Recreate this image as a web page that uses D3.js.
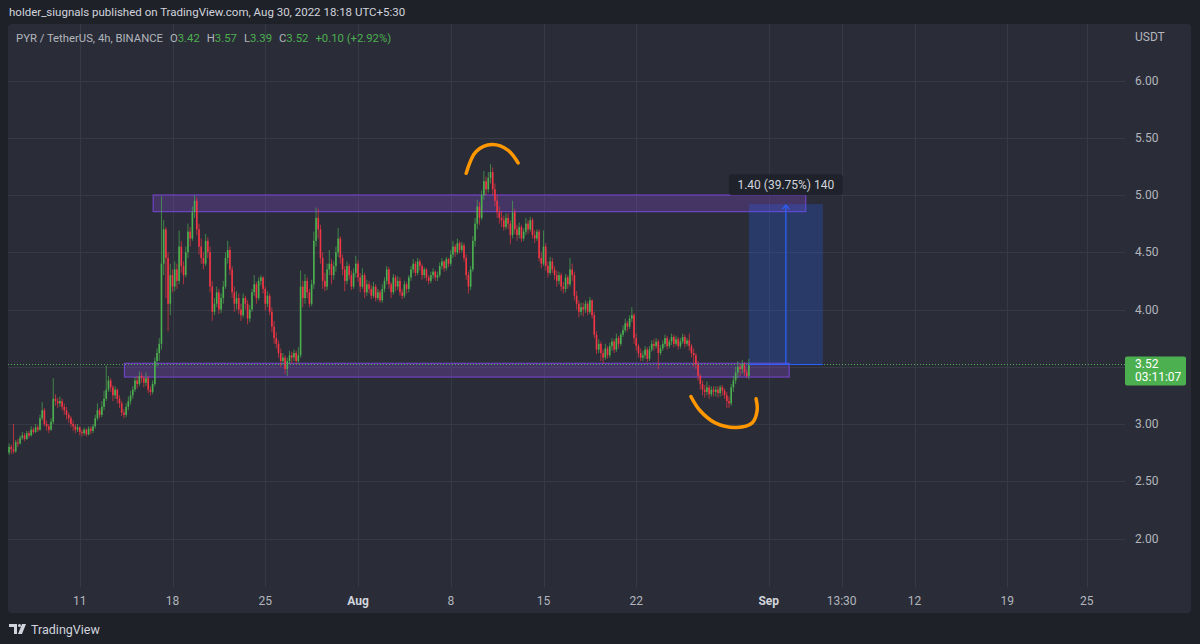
<!DOCTYPE html>
<html>
<head>
<meta charset="utf-8">
<script src="https://cdn.jsdelivr.net/npm/d3@7"></script>
<style>
  html, body { margin: 0; padding: 0; background: #1f2129; }
  svg { display: block; font-family: Roboto, "Noto Sans", sans-serif; }
</style>
</head>
<body>
<svg id="chart" width="1200" height="644"></svg>
<script>
// PYR/USDT 4h candles, Jul 5 12:00 -> Aug 30 12:00 (UTC), one row per day
const firstOpen = 2.72;
const closes = [
  2.75, 2.80, 2.78,
  2.76, 2.84, 2.83, 2.88, 2.90, 2.87,
  2.92, 2.90, 2.95, 2.93, 2.97, 2.95,
  3.05, 3.12, 3.00, 2.98, 2.95, 3.02,
  3.22, 3.20, 3.18, 3.20, 3.15, 3.12,
  3.08, 3.05, 3.00, 2.98, 2.95, 2.97,
  2.93, 2.92, 2.95, 2.91, 2.96, 2.94,
  2.98, 3.05, 3.12, 3.08, 3.15, 3.22,
  3.30, 3.38, 3.32, 3.25, 3.30, 3.22,
  3.18, 3.10, 3.08, 3.15, 3.20, 3.25,
  3.30, 3.38, 3.35, 3.42, 3.40, 3.36,
  3.40, 3.30, 3.28, 3.35, 3.55, 3.62,
  3.70, 4.40, 4.70, 4.45, 4.05, 4.30,
  4.20, 4.35, 4.25, 4.55, 4.38, 4.30,
  4.50, 4.68, 4.62, 4.85, 4.95, 4.70,
  4.55, 4.45, 4.40, 4.60, 4.50, 4.20,
  3.98, 4.05, 4.15, 4.00, 4.10, 4.20,
  4.45, 4.52, 4.35, 4.15, 4.05, 4.10,
  4.00, 3.95, 4.10, 4.05, 3.92, 4.00,
  4.15, 4.22, 4.10, 4.25, 4.28, 4.18,
  4.05, 4.12, 3.98, 3.85, 3.75, 3.70,
  3.62, 3.55, 3.58, 3.48, 3.55, 3.60,
  3.58, 3.62, 3.55, 3.60, 4.20, 4.10,
  4.25, 4.15, 4.05, 4.22, 4.60, 4.80,
  4.70, 4.45, 4.25, 4.20, 4.35, 4.40,
  4.30, 4.38, 4.50, 4.62, 4.45, 4.35,
  4.25, 4.38, 4.30, 4.20, 4.32, 4.40,
  4.28, 4.20, 4.30, 4.15, 4.22, 4.18,
  4.12, 4.20, 4.10, 4.15, 4.08, 4.18,
  4.25, 4.35, 4.22, 4.15, 4.28, 4.20,
  4.25, 4.15, 4.12, 4.22, 4.18, 4.28,
  4.35, 4.40, 4.32, 4.42, 4.38, 4.30,
  4.35, 4.28, 4.25, 4.30, 4.33, 4.28,
  4.30, 4.38, 4.42, 4.36, 4.44, 4.40,
  4.48, 4.55, 4.50, 4.58, 4.52, 4.56,
  4.45, 4.30, 4.20, 4.35, 4.60, 4.75,
  4.90, 4.80, 5.00, 5.12, 5.05, 5.15,
  5.20, 5.05, 4.95, 4.85, 4.80, 4.78,
  4.72, 4.80, 4.75, 4.65, 4.85, 4.70,
  4.65, 4.72, 4.62, 4.68, 4.75, 4.70,
  4.78, 4.65, 4.62, 4.68, 4.45, 4.40,
  4.55, 4.38, 4.32, 4.42, 4.35, 4.30,
  4.25, 4.30, 4.20, 4.18, 4.28, 4.22,
  4.35, 4.30, 4.12, 4.05, 3.98, 4.02,
  4.00, 4.05, 3.98, 4.08, 3.95, 3.78,
  3.65, 3.70, 3.62, 3.58, 3.66, 3.60,
  3.68, 3.72, 3.65, 3.75, 3.70, 3.78,
  3.82, 3.88, 3.85, 3.92, 3.95, 3.75,
  3.68, 3.62, 3.58, 3.60, 3.65, 3.57,
  3.65, 3.70, 3.68, 3.72, 3.62, 3.66,
  3.70, 3.75, 3.68, 3.72, 3.76, 3.70,
  3.74, 3.68, 3.72, 3.76, 3.70, 3.73,
  3.68, 3.62, 3.60, 3.52, 3.42, 3.35,
  3.30, 3.28, 3.32, 3.26, 3.30, 3.28,
  3.30, 3.27, 3.32, 3.29, 3.25, 3.20,
  3.18, 3.32, 3.38, 3.45, 3.50, 3.48,
  3.52, 3.45, 3.42, 3.52
];
const highs = [
  2.78, 2.83, 2.82,
  3.00, 2.86, 2.87, 2.90, 2.93, 2.92,
  2.94, 2.94, 2.98, 2.97, 3.00, 2.99,
  3.08, 3.19, 3.14, 3.03, 3.00, 3.05,
  3.40, 3.26, 3.23, 3.24, 3.22, 3.18,
  3.15, 3.10, 3.07, 3.03, 3.00, 3.00,
  2.98, 2.95, 2.97, 2.96, 2.98, 2.98,
  3.00, 3.08, 3.18, 3.14, 3.20, 3.29,
  3.51, 3.42, 3.40, 3.34, 3.33, 3.31,
  3.25, 3.20, 3.13, 3.18, 3.24, 3.29,
  3.33, 3.41, 3.42, 3.46, 3.45, 3.42,
  3.45, 3.42, 3.33, 3.38, 3.58, 3.66,
  3.75, 4.99, 4.78, 4.72, 4.50, 4.40,
  4.35, 4.42, 4.40, 4.69, 4.60, 4.42,
  4.55, 4.75, 4.72, 4.90, 5.00, 4.98,
  4.75, 4.62, 4.50, 4.66, 4.63, 4.55,
  4.25, 4.10, 4.20, 4.18, 4.14, 4.25,
  4.50, 4.60, 4.55, 4.38, 4.20, 4.16,
  4.14, 4.05, 4.14, 4.12, 4.08, 4.04,
  4.18, 4.30, 4.24, 4.28, 4.30, 4.29,
  4.20, 4.16, 4.14, 4.02, 3.90, 3.80,
  3.73, 3.66, 3.62, 3.60, 3.58, 3.64,
  3.63, 3.65, 3.64, 3.67, 4.34, 4.25,
  4.31, 4.28, 4.18, 4.26, 4.68, 4.89,
  4.88, 4.74, 4.50, 4.32, 4.40, 4.52,
  4.44, 4.42, 4.55, 4.71, 4.64, 4.48,
  4.38, 4.42, 4.40, 4.34, 4.36, 4.47,
  4.43, 4.32, 4.36, 4.32, 4.26, 4.25,
  4.21, 4.24, 4.22, 4.18, 4.17, 4.22,
  4.28, 4.38, 4.37, 4.24, 4.31, 4.30,
  4.29, 4.28, 4.18, 4.25, 4.24, 4.30,
  4.38, 4.44, 4.42, 4.45, 4.44, 4.40,
  4.37, 4.36, 4.30, 4.33, 4.36, 4.34,
  4.33, 4.41, 4.45, 4.43, 4.46, 4.45,
  4.52, 4.60, 4.57, 4.62, 4.60, 4.59,
  4.58, 4.48, 4.33, 4.38, 4.64, 4.80,
  4.96, 4.94, 5.04, 5.21, 5.16, 5.20,
  5.27, 5.24, 5.10, 5.00, 4.90, 4.86,
  4.82, 4.84, 4.84, 4.78, 4.95, 4.88,
  4.74, 4.76, 4.74, 4.71, 4.80, 4.78,
  4.81, 4.80, 4.69, 4.70, 4.70, 4.50,
  4.69, 4.58, 4.42, 4.46, 4.45, 4.38,
  4.34, 4.33, 4.32, 4.24, 4.31, 4.30,
  4.45, 4.40, 4.33, 4.16, 4.08, 4.06,
  4.06, 4.08, 4.07, 4.11, 4.09, 3.98,
  3.81, 3.74, 3.72, 3.65, 3.70, 3.68,
  3.71, 3.75, 3.74, 3.79, 3.77, 3.80,
  3.86, 3.92, 3.90, 3.95, 4.02, 3.97,
  3.79, 3.70, 3.66, 3.64, 3.68, 3.67,
  3.68, 3.73, 3.74, 3.75, 3.74, 3.69,
  3.73, 3.78, 3.77, 3.74, 3.79, 3.78,
  3.77, 3.76, 3.75, 3.79, 3.78, 3.75,
  3.79, 3.70, 3.66, 3.62, 3.55, 3.44,
  3.38, 3.34, 3.37, 3.34, 3.33, 3.33,
  3.33, 3.33, 3.34, 3.34, 3.31, 3.28,
  3.24, 3.35, 3.42, 3.50, 3.55, 3.53,
  3.56, 3.54, 3.48, 3.57
];
const lows = [
  2.70, 2.73, 2.74,
  2.74, 2.75, 2.80, 2.82, 2.86, 2.85,
  2.86, 2.88, 2.89, 2.91, 2.92, 2.93,
  2.94, 3.03, 2.98, 2.94, 2.92, 2.94,
  3.00, 3.16, 3.14, 3.15, 3.12, 3.08,
  3.04, 3.01, 2.97, 2.94, 2.92, 2.93,
  2.90, 2.89, 2.90, 2.89, 2.90, 2.91,
  2.92, 2.96, 3.03, 3.05, 3.06, 3.12,
  3.20, 3.28, 3.28, 3.20, 3.22, 3.18,
  3.14, 3.07, 3.05, 3.06, 3.12, 3.17,
  3.22, 3.28, 3.31, 3.33, 3.36, 3.32,
  3.33, 3.27, 3.25, 3.26, 3.33, 3.50,
  3.55, 3.65, 4.30, 4.10, 3.81, 3.95,
  4.15, 4.16, 4.18, 4.22, 4.32, 4.22,
  4.28, 4.45, 4.55, 4.60, 4.80, 4.65,
  4.48, 4.40, 4.35, 4.38, 4.45, 4.15,
  3.90, 3.95, 4.02, 3.96, 3.97, 4.05,
  4.18, 4.40, 4.30, 4.10, 3.98, 4.00,
  3.96, 3.90, 3.93, 4.00, 3.87, 3.89,
  3.98, 4.12, 4.05, 4.08, 4.21, 4.14,
  3.99, 4.02, 3.95, 3.80, 3.70, 3.66,
  3.58, 3.50, 3.52, 3.44, 3.42, 3.52,
  3.53, 3.55, 3.52, 3.53, 3.58, 4.02,
  4.05, 4.10, 4.02, 4.03, 4.18, 4.55,
  4.62, 4.40, 4.18, 4.16, 4.17, 4.30,
  4.22, 4.26, 4.33, 4.46, 4.40, 4.30,
  4.16, 4.22, 4.26, 4.17, 4.18, 4.28,
  4.24, 4.15, 4.18, 4.10, 4.12, 4.14,
  4.09, 4.10, 4.07, 4.08, 4.06, 4.06,
  4.15, 4.22, 4.18, 4.10, 4.13, 4.16,
  4.17, 4.12, 4.09, 4.10, 4.14, 4.15,
  4.25, 4.32, 4.29, 4.30, 4.34, 4.26,
  4.27, 4.25, 4.22, 4.23, 4.27, 4.25,
  4.25, 4.28, 4.35, 4.33, 4.34, 4.37,
  4.38, 4.45, 4.46, 4.48, 4.49, 4.50,
  4.42, 4.26, 4.14, 4.17, 4.33, 4.55,
  4.70, 4.74, 4.78, 4.96, 5.00, 5.02,
  5.10, 5.00, 4.90, 4.80, 4.75, 4.72,
  4.69, 4.70, 4.70, 4.57, 4.62, 4.66,
  4.60, 4.62, 4.59, 4.60, 4.65, 4.66,
  4.68, 4.62, 4.58, 4.60, 4.42, 4.36,
  4.38, 4.34, 4.28, 4.30, 4.32, 4.26,
  4.20, 4.22, 4.16, 4.14, 4.15, 4.18,
  4.20, 4.25, 4.08, 4.00, 3.93, 3.95,
  3.94, 3.97, 3.95, 3.96, 3.92, 3.75,
  3.61, 3.62, 3.55, 3.53, 3.56, 3.57,
  3.58, 3.64, 3.62, 3.63, 3.66, 3.68,
  3.76, 3.80, 3.81, 3.83, 3.89, 3.70,
  3.64, 3.58, 3.55, 3.55, 3.57, 3.54,
  3.55, 3.63, 3.64, 3.66, 3.48, 3.60,
  3.64, 3.67, 3.65, 3.66, 3.69, 3.67,
  3.68, 3.65, 3.66, 3.70, 3.67, 3.68,
  3.64, 3.58, 3.50, 3.48, 3.38, 3.30,
  3.25, 3.23, 3.25, 3.22, 3.24, 3.24,
  3.24, 3.23, 3.24, 3.25, 3.22, 3.14,
  3.14, 3.16, 3.28, 3.35, 3.40, 3.42,
  3.44, 3.42, 3.40, 3.39
];
const startTime = Date.UTC(2022, 6, 5, 12);

const priceTicks = [2.0, 2.5, 3.0, 3.5, 4.0, 4.5, 5.0, 5.5, 6.0];
const timeTicks = [
  Date.UTC(2022, 6, 11), Date.UTC(2022, 6, 18), Date.UTC(2022, 6, 25), Date.UTC(2022, 7, 1),
  Date.UTC(2022, 7, 8), Date.UTC(2022, 7, 15), Date.UTC(2022, 7, 22), Date.UTC(2022, 8, 1),
  Date.UTC(2022, 8, 6, 12), Date.UTC(2022, 8, 12), Date.UTC(2022, 8, 19), Date.UTC(2022, 8, 25)
];
const timeLabels = ["11", "18", "25", "Aug", "8", "15", "22", "Sep", "13:30", "12", "19", "25"];

const lastPrice = 3.52;
const countdown = "03:11:07";
// zones: [start, end, topPrice, bottomPrice]
const resistanceZone = [Date.UTC(2022, 6, 16, 13), Date.UTC(2022, 8, 3, 19), 5.00, 4.855];
const supportZone = [Date.UTC(2022, 6, 14, 9), Date.UTC(2022, 8, 2, 13), 3.53, 3.41];
// long position projection: [start, arrow, end, entry, target]
const projection = [Date.UTC(2022, 7, 30, 12), Date.UTC(2022, 8, 2, 7), Date.UTC(2022, 8, 5, 2), 3.52, 4.92];
const projectionLabel = "1.40 (39.75%) 140";
// hand-drawn arcs as [time, price]
const topArc = [
  [Date.UTC(2022, 7, 9, 4), 5.19], [Date.UTC(2022, 7, 9, 22), 5.38], [Date.UTC(2022, 7, 11, 3), 5.44],
  [Date.UTC(2022, 7, 12, 8), 5.39], [Date.UTC(2022, 7, 13, 2), 5.28]
];
const bottomArc = [
  [Date.UTC(2022, 7, 26, 3), 3.24], [Date.UTC(2022, 7, 26, 19), 3.12], [Date.UTC(2022, 7, 27, 23), 3.01],
  [Date.UTC(2022, 7, 29, 14), 2.97], [Date.UTC(2022, 7, 30, 18), 3.01], [Date.UTC(2022, 7, 31, 3), 3.12],
  [Date.UTC(2022, 7, 31, 1), 3.22]
];

const candles = closes.map((c, i) => ({
  t: new Date(startTime + i * 4 * 3600e3),
  o: i ? closes[i - 1] : firstOpen,
  h: highs[i], l: lows[i], c
}));

const W = 1200, H = 644;
const plot = { left: 8, right: 1125, top: 24, bottom: 587 };
const panelRight = 1191, panelBottom = 613;

const svg = d3.select('#chart');
svg.append('rect').attr('width', W).attr('height', H).attr('fill', '#1f2129');
svg.append('rect')
  .attr('x', plot.left).attr('y', plot.top)
  .attr('width', panelRight - plot.left).attr('height', panelBottom - plot.top)
  .attr('rx', 4).attr('fill', '#2a2d37');

const pxPerDay = 13.25;
const x = d3.scaleUtc()
  .domain([Date.UTC(2022, 6, 1), Date.UTC(2022, 9, 1)])
  .range([358 - 31 * pxPerDay, 358 + 61 * pxPerDay]);
const y = d3.scaleLinear().domain([2, 6]).range([538.5, 80.5]);

const green = '#4caf50', red = '#f23645';

svg.append('defs').append('clipPath').attr('id', 'plotClip')
  .append('rect').attr('x', plot.left).attr('y', plot.top)
  .attr('width', plot.right - plot.left).attr('height', plot.bottom - plot.top);

// grid
const grid = svg.append('g').attr('stroke', '#363a45').attr('stroke-width', 1);
grid.selectAll('.hg').data(priceTicks).enter().append('line')
  .attr('x1', plot.left).attr('x2', plot.right)
  .attr('y1', d => Math.round(y(d)) + 0.5).attr('y2', d => Math.round(y(d)) + 0.5);
grid.selectAll('.vg').data(timeTicks).enter().append('line')
  .attr('x1', d => Math.round(x(d)) + 0.5).attr('x2', d => Math.round(x(d)) + 0.5)
  .attr('y1', plot.top).attr('y2', plot.bottom);

const g = svg.append('g').attr('clip-path', 'url(#plotClip)');

// zones
[resistanceZone, supportZone].forEach(z => {
  g.append('rect')
    .attr('x', x(z[0])).attr('y', y(z[2]))
    .attr('width', x(z[1]) - x(z[0])).attr('height', y(z[3]) - y(z[2]))
    .attr('fill', 'rgba(120,70,190,0.34)')
    .attr('stroke', '#6f42c1').attr('stroke-width', 1.2);
});

// candles
const bw = 1.6;
const cg = g.append('g');
cg.selectAll('.wick').data(candles).enter().append('line')
  .attr('x1', d => x(d.t)).attr('x2', d => x(d.t))
  .attr('y1', d => y(Math.max(d.h, d.o, d.c))).attr('y2', d => y(Math.min(d.l, d.o, d.c)))
  .attr('stroke', d => d.c >= d.o ? green : red).attr('stroke-width', 0.9).attr('stroke-opacity', 0.75);
cg.selectAll('.body').data(candles).enter().append('rect')
  .attr('x', d => x(d.t) - bw / 2).attr('width', bw)
  .attr('y', d => y(Math.max(d.o, d.c)))
  .attr('height', d => Math.max(1, Math.abs(y(d.o) - y(d.c))))
  .attr('fill', d => d.c >= d.o ? green : red);

// current price line
g.append('line')
  .attr('x1', plot.left).attr('x2', plot.right)
  .attr('y1', Math.round(y(lastPrice)) + 0.5).attr('y2', Math.round(y(lastPrice)) + 0.5)
  .attr('stroke', green).attr('stroke-width', 1).attr('stroke-dasharray', '1,2');

// long position box
const [pS, pA, pE, pEntry, pTarget] = projection;
g.append('rect')
  .attr('x', x(pS)).attr('y', y(pTarget))
  .attr('width', x(pE) - x(pS)).attr('height', y(pEntry) - y(pTarget))
  .attr('fill', 'rgba(41,98,255,0.25)');
g.append('line')
  .attr('x1', x(pS)).attr('x2', x(pE))
  .attr('y1', y(pEntry)).attr('y2', y(pEntry))
  .attr('stroke', '#2962ff').attr('stroke-width', 1);
g.append('line')
  .attr('x1', x(pA)).attr('x2', x(pA))
  .attr('y1', y(pEntry)).attr('y2', y(pTarget) + 1)
  .attr('stroke', '#2962ff').attr('stroke-width', 1.2);
g.append('path')
  .attr('d', `M${x(pA) - 3.5},${y(pTarget) + 5} L${x(pA)},${y(pTarget) + 1} L${x(pA) + 3.5},${y(pTarget) + 5}`)
  .attr('fill', 'none').attr('stroke', '#2962ff').attr('stroke-width', 1.2);

const lblX = x(pA), lblY = y(pTarget) - 19;
g.append('rect')
  .attr('x', lblX - 57).attr('y', lblY - 11).attr('width', 114).attr('height', 21)
  .attr('rx', 3).attr('fill', 'rgba(30,33,42,0.9)');
g.append('text')
  .attr('x', lblX).attr('y', lblY + 4).attr('text-anchor', 'middle')
  .attr('fill', '#d1d4dc').attr('font-size', 12).text(projectionLabel);

// hand-drawn arcs
const arcLine = d3.line().x(d => x(d[0])).y(d => y(d[1])).curve(d3.curveCatmullRom.alpha(0.5));
[topArc, bottomArc].forEach(a => {
  g.append('path').attr('d', arcLine(a))
    .attr('fill', 'none').attr('stroke', '#ff9800')
    .attr('stroke-width', 3.5).attr('stroke-linecap', 'round');
});

// price axis (the tick under the last-price tag is hidden, as in TradingView)
const ly = y(lastPrice);
svg.append('text').attr('x', 1135).attr('y', 41).attr('fill', '#b2b5be').attr('font-size', 12).text('USDT');
svg.selectAll('.pl').data(priceTicks.filter(d => Math.abs(y(d) - ly) > 16)).enter().append('text')
  .attr('x', 1135).attr('y', d => y(d) + 4)
  .attr('fill', '#b2b5be').attr('font-size', 12)
  .text(d => d.toFixed(2));

// last price label
svg.append('rect').attr('x', 1125).attr('y', ly - 8).attr('width', 61).attr('height', 29)
  .attr('rx', 2).attr('fill', green);
svg.append('text').attr('x', 1135).attr('y', ly + 4).attr('fill', '#ffffff').attr('font-size', 12).text(lastPrice.toFixed(2));
svg.append('text').attr('x', 1135).attr('y', ly + 17).attr('fill', '#ffffff').attr('font-size', 12).text(countdown);

// time axis
svg.selectAll('.tl').data(timeTicks).enter().append('text')
  .attr('x', d => x(d)).attr('y', 605).attr('text-anchor', 'middle')
  .attr('fill', (d, i) => /^[A-Z]/.test(timeLabels[i]) ? '#d1d4dc' : '#b2b5be')
  .attr('font-weight', (d, i) => /^[A-Z]/.test(timeLabels[i]) ? 700 : 400)
  .attr('font-size', 12)
  .text((d, i) => timeLabels[i]);

// header
svg.append('text').attr('x', 9).attr('y', 16).attr('fill', '#d1d4dc').attr('font-size', 11.5)
  .text('holder_siugnals published on TradingView.com, Aug 30, 2022 18:18 UTC+5:30');
const last = candles[candles.length - 1];
const chg = last.c - last.o;
const legend = svg.append('text').attr('x', 16).attr('y', 42).attr('font-size', 11.3).attr('fill', '#b2b5be');
legend.append('tspan').text('PYR / TetherUS, 4h, BINANCE');
[['O', last.o], ['H', last.h], ['L', last.l], ['C', last.c]].forEach(([k, v]) => {
  legend.append('tspan').attr('dx', 7).text(k);
  legend.append('tspan').attr('fill', green).text(v.toFixed(2));
});
legend.append('tspan').attr('dx', 7).attr('fill', green)
  .text(`+${chg.toFixed(2)} (+${(chg / last.o * 100).toFixed(2)}%)`);

// footer logo
const logo = svg.append('g').attr('transform', 'translate(9,624)').attr('fill', '#d1d4dc');
logo.append('path').attr('d', 'M0,0 H8 V10 H5 V3 H0 Z');
logo.append('circle').attr('cx', 10.5).attr('cy', 1.5).attr('r', 1.5);
logo.append('path').attr('d', 'M13,0 H17 L13,10 H9 Z');
svg.append('text').attr('x', 31).attr('y', 634).attr('fill', '#d1d4dc').attr('font-size', 12.5).text('TradingView');
</script>
</body>
</html>
